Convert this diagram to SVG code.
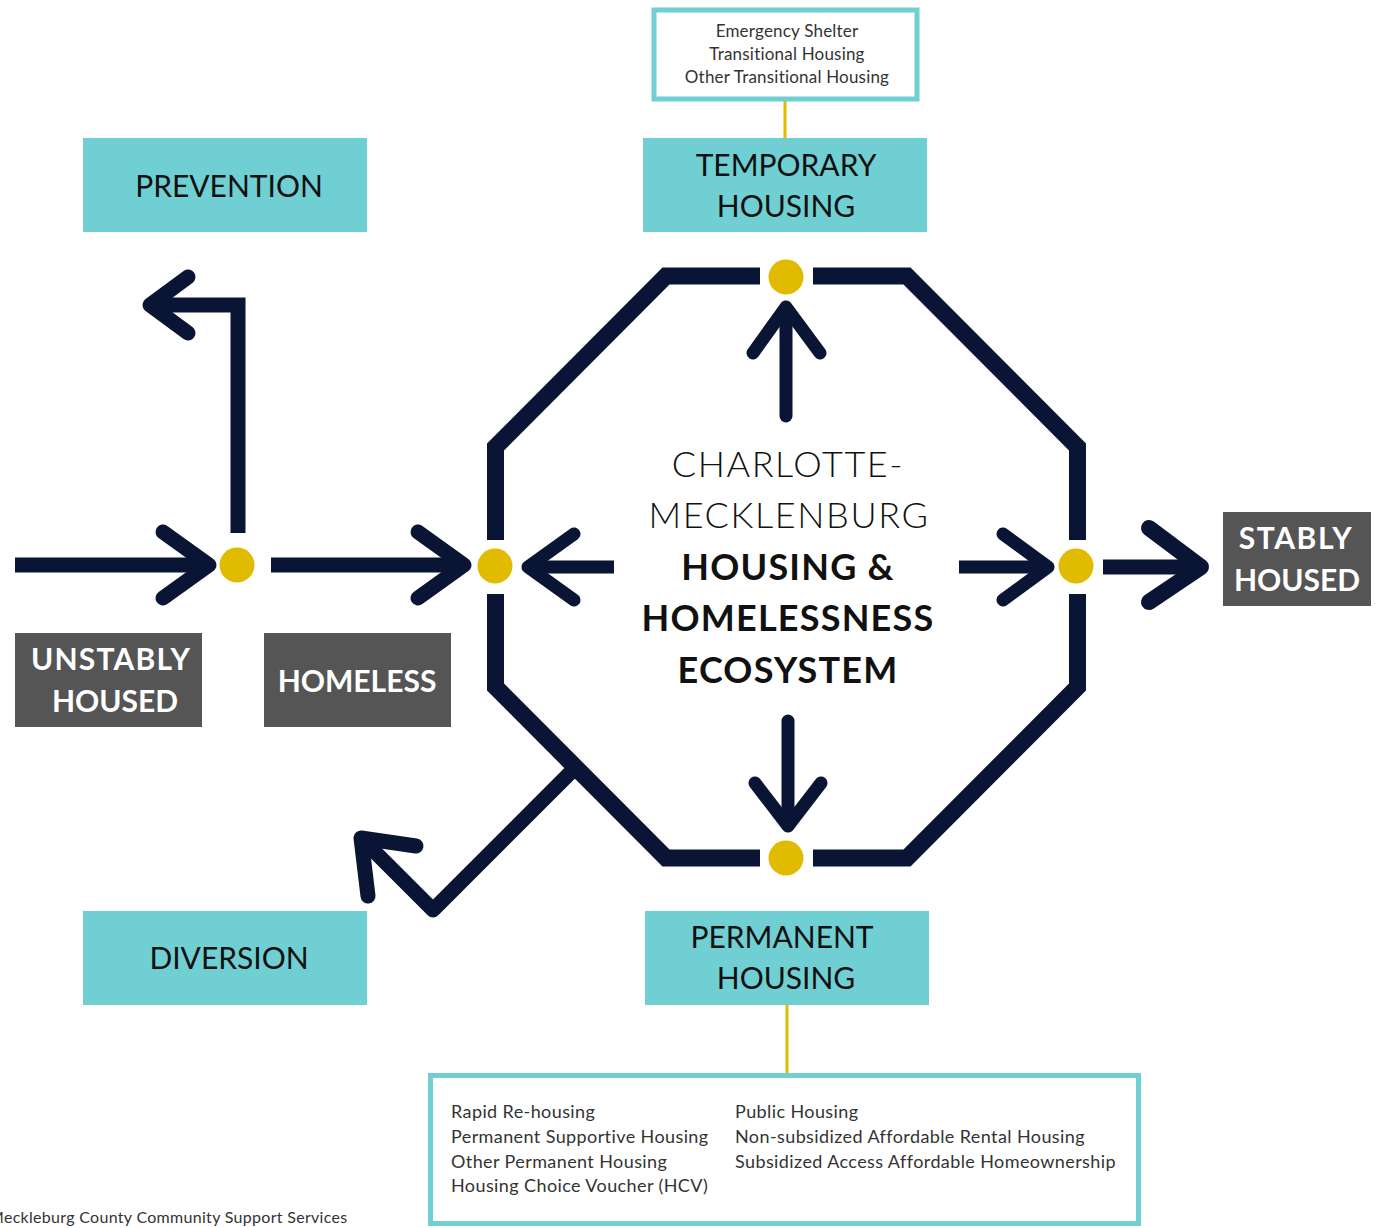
<svg xmlns="http://www.w3.org/2000/svg" width="1376" height="1228" viewBox="0 0 1376 1228">
<style>
.teal{fill:#70cfd2}
.grey{fill:#555555}
.frame{fill:#ffffff;stroke:#70cfd2;stroke-width:5}
.oct{fill:none;stroke:#0a1434;stroke-width:17;stroke-linejoin:miter;stroke-linecap:butt}
.shaft{fill:none;stroke:#0a1434;stroke-width:13;stroke-linecap:butt}
.head{fill:none;stroke:#0a1434;stroke-width:13;stroke-linecap:round;stroke-linejoin:round}
.thick{stroke-width:15}
.dot{fill:#e0bb00}
.ylw{stroke:#e0bb00;stroke-width:3}
.lbl{font-family:Lato,"Liberation Sans",sans-serif;font-size:30px;fill:#111111;text-anchor:middle}
.wlbl{font-family:Lato,"Liberation Sans",sans-serif;font-size:30px;font-weight:700;fill:#ffffff;text-anchor:middle}
.ctr{font-family:Lato,"Liberation Sans",sans-serif;font-size:36px;font-weight:300;fill:#111111;text-anchor:middle;letter-spacing:1.6px}
.ctrb{font-family:Lato,"Liberation Sans",sans-serif;font-size:36px;font-weight:700;fill:#111111;text-anchor:middle;letter-spacing:1.2px}
.sm{font-family:Lato,"Liberation Sans",sans-serif;font-size:18px;fill:#333333;letter-spacing:0.4px}
.smc{font-family:Lato,"Liberation Sans",sans-serif;font-size:17px;fill:#333333;text-anchor:middle;letter-spacing:0.2px}
.foot{font-family:Lato,"Liberation Sans",sans-serif;font-size:16px;fill:#333333;letter-spacing:0.3px}
</style>

<g id="connectors">
  <!-- octagon ring with gaps at the four junctions -->
  <polyline class="oct" points="760,276 666,276 495.5,447 495.5,540"/>
  <polyline class="oct" points="813,276 907,276 1077.5,447 1077.5,540"/>
  <polyline class="oct" points="495.5,594 495.5,687 666,858 760,858"/>
  <polyline class="oct" points="1077.5,594 1077.5,687 907,858 813,858"/>
  <!-- inner arrows -->
  <line class="shaft" x1="786" y1="416" x2="786" y2="308" style="stroke-linecap:round"/>
  <polyline class="head" points="753,353 786,307 820,353"/>
  <line class="shaft" x1="788" y1="721" x2="788" y2="824" style="stroke-linecap:round"/>
  <polyline class="head" points="755,783 788,826 821,783"/>
  <line class="shaft" x1="614" y1="567" x2="530" y2="567"/>
  <polyline class="head" points="574,534 528,567 574,600"/>
  <line class="shaft" x1="959" y1="567" x2="1045" y2="567"/>
  <polyline class="head" points="1003,534 1048,567 1003,600"/>
  <!-- left inflow arrows -->
  <line class="shaft thick" x1="15" y1="565" x2="206" y2="565"/>
  <polyline class="head thick" points="163,532 209,565 163,598"/>
  <line class="shaft thick" x1="271" y1="565" x2="461" y2="565"/>
  <polyline class="head thick" points="418,532 464,565 418,598"/>
  <!-- prevention branch -->
  <polyline class="shaft thick" style="stroke-linejoin:miter" points="238,533 238,305 152,305"/>
  <polyline class="head thick" points="188,277 150,305 188,333"/>
  <!-- stably housed arrow -->
  <line class="shaft thick" x1="1103" y1="567" x2="1198" y2="567"/>
  <polyline class="head" style="stroke-width:16" points="1149,528 1201,567 1149,602"/>
  <!-- diversion branch -->
  <polyline class="head thick" style="stroke-linecap:butt" points="576,767 433,910 363,840"/>
  <polyline class="head thick" points="416,846 361,838 368,896"/>
  <!-- yellow leader lines -->
  <line class="ylw" x1="785" y1="100" x2="785" y2="138"/>
  <line class="ylw" x1="787" y1="1005" x2="787" y2="1073"/>
</g>

<g id="junctions">
  <circle class="dot" cx="786" cy="277" r="17.5"/>
  <circle class="dot" cx="786" cy="858" r="17.5"/>
  <circle class="dot" cx="495" cy="566" r="17.5"/>
  <circle class="dot" cx="1076" cy="566" r="17.5"/>
  <circle class="dot" cx="237" cy="565" r="17.5"/>
</g>

<g id="center-title">
  <text class="ctr" x="788" y="477">CHARLOTTE-</text>
  <text class="ctr" x="789" y="528">MECKLENBURG</text>
  <text class="ctrb" x="788" y="580">HOUSING &amp;</text>
  <text class="ctrb" x="788" y="631">HOMELESSNESS</text>
  <text class="ctrb" x="788" y="683">ECOSYSTEM</text>
</g>

<g id="node-temporary-detail">
  <rect class="frame" x="654" y="10" width="263" height="89"/>
  <text class="smc" x="787" y="37">Emergency Shelter</text>
  <text class="smc" x="787" y="60">Transitional Housing</text>
  <text class="smc" x="787" y="83">Other Transitional Housing</text>
</g>

<g id="node-prevention">
  <rect class="teal" x="83" y="138" width="284" height="94"/>
  <text class="lbl" x="229" y="197">PREVENTION</text>
</g>

<g id="node-temporary">
  <rect class="teal" x="643" y="138" width="284" height="94"/>
  <text class="lbl" x="786" y="176">TEMPORARY</text>
  <text class="lbl" x="786" y="217">HOUSING</text>
</g>

<g id="node-unstably-housed">
  <rect class="grey" x="15" y="633" width="187" height="94"/>
  <text class="wlbl" x="111" y="670" style="letter-spacing:1.2px">UNSTABLY</text>
  <text class="wlbl" x="115" y="712">HOUSED</text>
</g>

<g id="node-homeless">
  <rect class="grey" x="264" y="633" width="187" height="94"/>
  <text class="wlbl" x="357" y="692">HOMELESS</text>
</g>

<g id="node-stably-housed">
  <rect class="grey" x="1223" y="512" width="148" height="94"/>
  <text class="wlbl" x="1296" y="549" style="letter-spacing:1.6px">STABLY</text>
  <text class="wlbl" x="1297" y="591">HOUSED</text>
</g>

<g id="node-diversion">
  <rect class="teal" x="83" y="911" width="284" height="94"/>
  <text class="lbl" x="229" y="969">DIVERSION</text>
</g>

<g id="node-permanent">
  <rect class="teal" x="645" y="911" width="284" height="94"/>
  <text class="lbl" x="782" y="948">PERMANENT</text>
  <text class="lbl" x="786" y="989">HOUSING</text>
</g>

<g id="node-permanent-detail">
  <rect class="frame" x="430.5" y="1075.5" width="708" height="148"/>
  <text class="sm" x="451" y="1118">Rapid Re-housing</text>
  <text class="sm" x="451" y="1143">Permanent Supportive Housing</text>
  <text class="sm" x="451" y="1168">Other Permanent Housing</text>
  <text class="sm" x="451" y="1192">Housing Choice Voucher (HCV)</text>
  <text class="sm" x="735" y="1118">Public Housing</text>
  <text class="sm" x="735" y="1143">Non-subsidized Affordable Rental Housing</text>
  <text class="sm" x="735" y="1168">Subsidized Access Affordable Homeownership</text>
</g>

<text class="foot" x="-11" y="1223">Meckleburg County Community Support Services</text>
</svg>
